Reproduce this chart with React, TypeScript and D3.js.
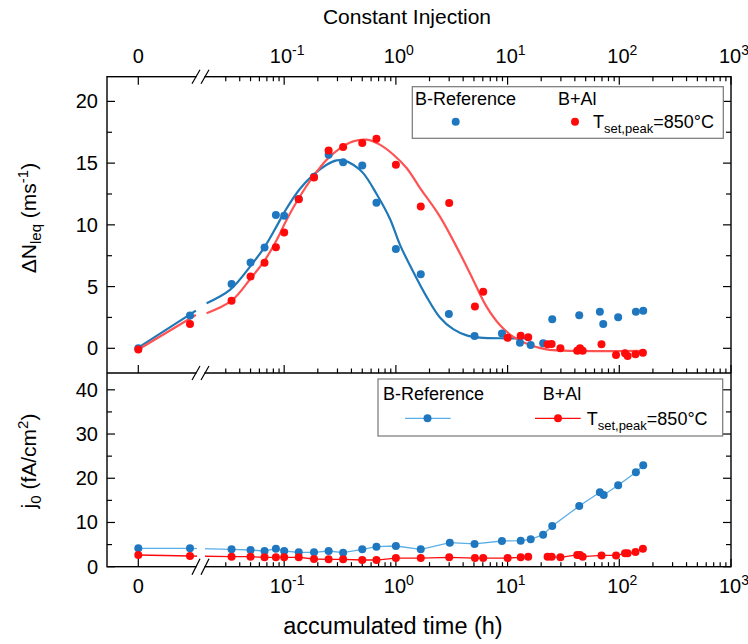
import React from "react";
import * as d3 from "d3";

// ---------- data ----------
const earlyTimes = [0, 0.0167, 0.0338, 0.05, 0.0667, 0.0843, 0.1, 0.135, 0.185, 0.25, 0.337, 0.5, 0.67, 1.0, 1.67];

const refDnTimes = [...earlyTimes, 2.98, 5.06, 8.9, 12.9, 16.1, 20.8, 25.1, 43.8, 67, 71.8, 97.7, 140.8, 163.8];
const refDnValues = [0, 2.65, 5.2, 6.95, 8.16, 10.79, 10.73, 12.1, 13.9, 15.68, 15.08, 14.8, 11.78, 8.05, 6.0,
  2.78, 1.0, 1.2, 0.45, 0.27, 0.4, 2.35, 2.68, 2.97, 1.97, 2.51, 2.97, 3.05];

const alDnTimes = [...earlyTimes, 3.0, 5.1, 6.05, 10.0, 13.1, 15.3, 22.8, 24.8, 29.7, 42.0, 44.5, 47, 69.3, 93.5, 112.5, 118.7, 139.6, 162.7];
const alDnValues = [-0.1, 1.97, 3.86, 5.81, 6.94, 8.19, 9.38, 12.08, 13.84, 16.03, 16.3, 16.63, 16.97, 14.87, 11.48,
  11.76, 3.38, 4.59, 0.86, 1.02, 0.89, 0.32, 0.35, 0.0, -0.19, 0.0, -0.19, 0.32, -0.54, -0.41, -0.62, -0.49, -0.35];

// fitted curves
const refFitLinTimes = [0, 0.0186];
const refFitLinValues = [0.05, 3.05];
const refFitTimes = [0.0202, 0.0327, 0.0503, 0.0667, 0.0857, 0.1015, 0.138, 0.182, 0.24, 0.294, 0.337, 0.415, 0.51, 0.672, 0.884, 1.086, 1.43, 1.88, 2.48, 3.26, 4.3, 5.65, 9.8, 16.3];
const refFitValues = [3.65, 4.73, 6.7, 8.2, 9.9, 11.1, 12.9, 14.05, 14.87, 15.22, 15.22, 14.87, 14.19, 12.5, 10.5, 8.4, 6.2, 4.19, 2.5, 1.55, 1.05, 0.86, 0.81, 0.81];

const alFitLinTimes = [0, 0.0186];
const alFitLinValues = [-0.1, 2.7];
const alFitTimes = [0.0202, 0.0338, 0.0503, 0.0667, 0.0857, 0.105, 0.138, 0.182, 0.24, 0.3155, 0.415, 0.547, 0.719, 0.946, 1.247, 1.64, 2.48, 3.74, 4.92, 6.48, 8.53, 11.2, 15.85, 22.3, 31.5, 164];
const alFitValues = [2.84, 3.86, 5.68, 7.1, 8.78, 10.4, 12.3, 13.92, 15.27, 16.2, 16.76, 16.9, 16.5, 15.7, 14.6, 13.0, 10.67, 7.7, 5.54, 3.38, 1.89, 0.94, 0.27, -0.08, -0.19, -0.2];

// j0 panel
const refJ0Times = [...earlyTimes, 3.04, 5.06, 8.9, 13.1, 16.1, 20.8, 25.1, 43.8, 67, 72.5, 97.7, 140.8, 163.8];
const refJ0Values = [4.16, 4.16, 3.93, 3.78, 3.55, 4.07, 3.55, 3.26, 3.26, 3.55, 3.17, 3.93, 4.52, 4.68, 3.93,
  5.43, 5.14, 5.81, 5.88, 6.2, 7.24, 9.2, 13.73, 16.83, 16.2, 18.4, 21.35, 22.93];

const alJ0TimesA = [...earlyTimes, 3.0, 5.1, 6.05, 10, 13.1, 15.3];
const alJ0ValuesA = [2.65, 2.42, 2.27, 2.27, 2.11, 2.11, 2.11, 2.11, 1.74, 1.66, 1.66, 1.51, 1.51, 1.96, 1.96,
  2.11, 1.96, 1.96, 1.96, 2.11, 2.27];
const alJ0TimesB = [22.8, 24.8, 29.7, 42, 44.5, 47, 69.3, 93.5, 112.5, 118.7, 139.6, 162.7];
const alJ0ValuesB = [2.27, 2.27, 2.11, 2.65, 2.65, 2.27, 2.56, 2.56, 3.02, 3.02, 3.32, 4.07];

const decadeTicks = [0.1, 1, 10, 100, 1000];
const decadeExponents = ["-1", "0", "1", "2", "3"];
const dnTicks = [0, 5, 10, 15, 20];
const j0Ticks = [0, 10, 20, 30, 40];

// ---------- layout ----------
const W = 748, H = 644;
const L = 107, R = 731, T = 76.7, M = 373, B = 566.7;
const BLUE = "#1f77c0";
const BLUE_LINE = "#1f78b8";
const BLUE_THIN = "#5aaee6";
const RED = "#ff0a0a";
const RED_FIT = "#ff5252";
const FONT = "'Liberation Sans', Arial, sans-serif";

const xLin = d3.scaleLinear().domain([0, 0.0167]).range([138.3, 190]);
const xLog = d3.scaleLog().domain([0.02, 1000]).range([206.1, R]);
const xPos = (t: number) => (t < 0.019 ? xLin(t) : xLog(t));
const yTop = d3.scaleLinear().domain([-2, 22]).range([M, T]);
const yBot = d3.scaleLinear().domain([0, 43.8]).range([B, M]);

const zip = (ts: number[], vs: number[]) => ts.map((t, i) => [t, vs[i]] as [number, number]);

export default function App() {
  const lineTop = d3.line<[number, number]>().x(d => xPos(d[0])).y(d => yTop(d[1]));
  const curveTop = d3.line<[number, number]>().x(d => xPos(d[0])).y(d => yTop(d[1])).curve(d3.curveCatmullRom.alpha(0.5));
  const lineBot = d3.line<[number, number]>().x(d => xPos(d[0])).y(d => yBot(d[1]));

  const minorLog: number[] = [];
  [0.01, 0.1, 1, 10, 100].forEach(dd => {
    for (let k = 2; k <= 9; k++) {
      const v = k * dd;
      if (v >= 0.025 && v < 1000) minorLog.push(v);
    }
  });
  const majorX = [0, ...decadeTicks];

  const xTickMarks = (y: number, dir: number, key: string) => (
    <g key={key}>
      {majorX.map((t, i) => (
        <line key={"M" + i} x1={xPos(t)} x2={xPos(t)} y1={y} y2={y + dir * 8} stroke="#000" strokeWidth={1.2} />
      ))}
      {minorLog.map((t, i) => (
        <line key={"m" + i} x1={xLog(t)} x2={xLog(t)} y1={y} y2={y + dir * 4.5} stroke="#000" strokeWidth={1.2} />
      ))}
    </g>
  );

  const slash = (y: number, key: string, h = 7) => (
    <g key={key}>
      <rect x={196.5} y={y - 2} width={8} height={4} fill="#fff" />
      <line x1={192} y1={y + h} x2={200} y2={y - h} stroke="#000" strokeWidth={1.2} />
      <line x1={201} y1={y + h} x2={209} y2={y - h} stroke="#000" strokeWidth={1.2} />
    </g>
  );

  const dnMinor = [2.5, 7.5, 12.5, 17.5];
  const j0All = d3.range(0, 45, 5);

  const xLabel = (t: number, i: number, y: number) => {
    const x = xPos(t);
    if (t === 0)
      return <text key={"l" + i} x={x} y={y} textAnchor="middle" fontSize={20}>0</text>;
    const e = decadeExponents[i - 1];
    return (
      <text key={"l" + i} x={x + 3} y={y} textAnchor="middle" fontSize={20}>
        10<tspan dy={-8} fontSize={14}>{e}</tspan>
      </text>
    );
  };

  return (
    <svg width={W} height={H} style={{ position: "absolute", left: 0, top: 0, background: "#fff" }} fontFamily={FONT}>
      <defs>
        <clipPath id="brk">
          <rect x={L} y={T} width={197 - L} height={B - T} />
          <rect x={205} y={T} width={R - 205} height={B - T} />
        </clipPath>
      </defs>
      <rect x={0} y={0} width={W} height={H} fill="#fff" />

      {/* title + top axis labels */}
      <text x={407} y={24} textAnchor="middle" fontSize={21}>Constant Injection</text>
      {majorX.map((t, i) => xLabel(t, i, 63))}
      {majorX.map((t, i) => xLabel(t, i, 593))}
      <text x={393} y={634} textAnchor="middle" fontSize={23.5}>accumulated time (h)</text>

      {/* y titles */}
      <text transform="translate(36,218) rotate(-90)" textAnchor="middle" fontSize={21}>
        ΔN<tspan dy={5} fontSize={15}>leq</tspan><tspan dy={-5}> (ms</tspan><tspan dy={-8} fontSize={15}>-1</tspan><tspan dy={8}>)</tspan>
      </text>
      <text transform="translate(36,461) rotate(-90)" textAnchor="middle" fontSize={21}>
        j<tspan dy={5} fontSize={15}>0</tspan><tspan dy={-5}> (fA/cm</tspan><tspan dy={-8} fontSize={15}>2</tspan><tspan dy={8}>)</tspan>
      </text>

      {/* y ticks top */}
      {dnTicks.map(v => (
        <g key={"yt" + v}>
          <line x1={L} x2={L + 8} y1={yTop(v)} y2={yTop(v)} stroke="#000" strokeWidth={1.2} />
          <line x1={R} x2={R - 8} y1={yTop(v)} y2={yTop(v)} stroke="#000" strokeWidth={1.2} />
          <text x={98} y={yTop(v) + 7} textAnchor="end" fontSize={20}>{v}</text>
        </g>
      ))}
      {dnMinor.map(v => (
        <g key={"ytm" + v}>
          <line x1={L} x2={L + 5} y1={yTop(v)} y2={yTop(v)} stroke="#000" strokeWidth={1.2} />
          <line x1={R} x2={R - 5} y1={yTop(v)} y2={yTop(v)} stroke="#000" strokeWidth={1.2} />
        </g>
      ))}
      {/* y ticks bottom */}
      {j0All.map(v => (
        <g key={"yb" + v}>
          <line x1={L} x2={L + (v % 10 === 0 ? 8 : 5)} y1={yBot(v)} y2={yBot(v)} stroke="#000" strokeWidth={1.2} />
          <line x1={R} x2={R - (v % 10 === 0 ? 8 : 5)} y1={yBot(v)} y2={yBot(v)} stroke="#000" strokeWidth={1.2} />
        </g>
      ))}
      {j0Ticks.map(v => (
        <text key={"ybl" + v} x={98} y={yBot(v) + 7} textAnchor="end" fontSize={20}>{v}</text>
      ))}

      {/* x ticks */}
      {xTickMarks(T, 1, "tt")}
      {xTickMarks(M, -1, "tm")}
      {xTickMarks(B, -1, "tb")}

      {/* frame */}
      <rect x={L} y={T} width={R - L} height={B - T} fill="none" stroke="#000" strokeWidth={1.4} />
      <line x1={L} x2={R} y1={M} y2={M} stroke="#000" strokeWidth={1.4} />
      {slash(T, "s1")}
      {slash(M, "s2")}
      {slash(B, "s3", 8)}

      {/* top panel fits */}
      <g clipPath="url(#brk)" fill="none">
        <path d={lineTop(zip(refFitLinTimes, refFitLinValues)) || ""} stroke={BLUE_LINE} strokeWidth={2.2} />
        <path d={curveTop(zip(refFitTimes, refFitValues)) || ""} stroke={BLUE_LINE} strokeWidth={2.2} />
        <path d={lineTop(zip(alFitLinTimes, alFitLinValues)) || ""} stroke={RED_FIT} strokeWidth={2.2} />
        <path d={curveTop(zip(alFitTimes, alFitValues)) || ""} stroke={RED_FIT} strokeWidth={2.2} />
      </g>
      {zip(refDnTimes, refDnValues).map((d, i) => (
        <circle key={"rb" + i} cx={xPos(d[0])} cy={yTop(d[1])} r={4} fill={BLUE} />
      ))}
      {zip(alDnTimes, alDnValues).map((d, i) => (
        <circle key={"ra" + i} cx={xPos(d[0])} cy={yTop(d[1])} r={4} fill={RED} />
      ))}

      {/* bottom panel */}
      <g clipPath="url(#brk)" fill="none">
        <path d={lineBot(zip(refJ0Times, refJ0Values)) || ""} stroke={BLUE_THIN} strokeWidth={1.3} />
        <path d={lineBot(zip(alJ0TimesA, alJ0ValuesA)) || ""} stroke={RED} strokeWidth={1.3} />
        <path d={lineBot(zip(alJ0TimesB, alJ0ValuesB)) || ""} stroke={RED} strokeWidth={1.3} />
      </g>
      {zip(refJ0Times, refJ0Values).map((d, i) => (
        <circle key={"jb" + i} cx={xPos(d[0])} cy={yBot(d[1])} r={4} fill={BLUE} />
      ))}
      {[...zip(alJ0TimesA, alJ0ValuesA), ...zip(alJ0TimesB, alJ0ValuesB)].map((d, i) => (
        <circle key={"ja" + i} cx={xPos(d[0])} cy={yBot(d[1])} r={4} fill={RED} />
      ))}

      {/* legend top */}
      <rect x={412.3} y={86.7} width={311} height={51.6} fill="#fff" stroke="#777" strokeWidth={1.2} />
      <text x={415} y={105} fontSize={18}>B-Reference</text>
      <text x={558} y={105} fontSize={18}>B+Al</text>
      <circle cx={455.7} cy={121.7} r={4} fill={BLUE} />
      <circle cx={575} cy={121.7} r={4} fill={RED} />
      <text x={593} y={127.5} fontSize={18}>
        T<tspan dy={5} fontSize={13}>set,peak</tspan><tspan dy={-5}>=850°C</tspan>
      </text>

      {/* legend bottom */}
      <rect x={378} y={379} width={344.7} height={57} fill="#fff" stroke="#777" strokeWidth={1.2} />
      <text x={383} y={400} fontSize={18}>B-Reference</text>
      <text x={542.7} y={400} fontSize={18}>B+Al</text>
      <line x1={405} x2={450.7} y1={418.3} y2={418.3} stroke={BLUE_THIN} strokeWidth={1.3} />
      <circle cx={427.5} cy={418.3} r={4} fill={BLUE} />
      <line x1={535} x2={580.7} y1={418.3} y2={418.3} stroke={RED} strokeWidth={1.3} />
      <circle cx={558} cy={418.3} r={4} fill={RED} />
      <text x={586.7} y={425} fontSize={18}>
        T<tspan dy={5} fontSize={13}>set,peak</tspan><tspan dy={-5}>=850°C</tspan>
      </text>
    </svg>
  );
}
